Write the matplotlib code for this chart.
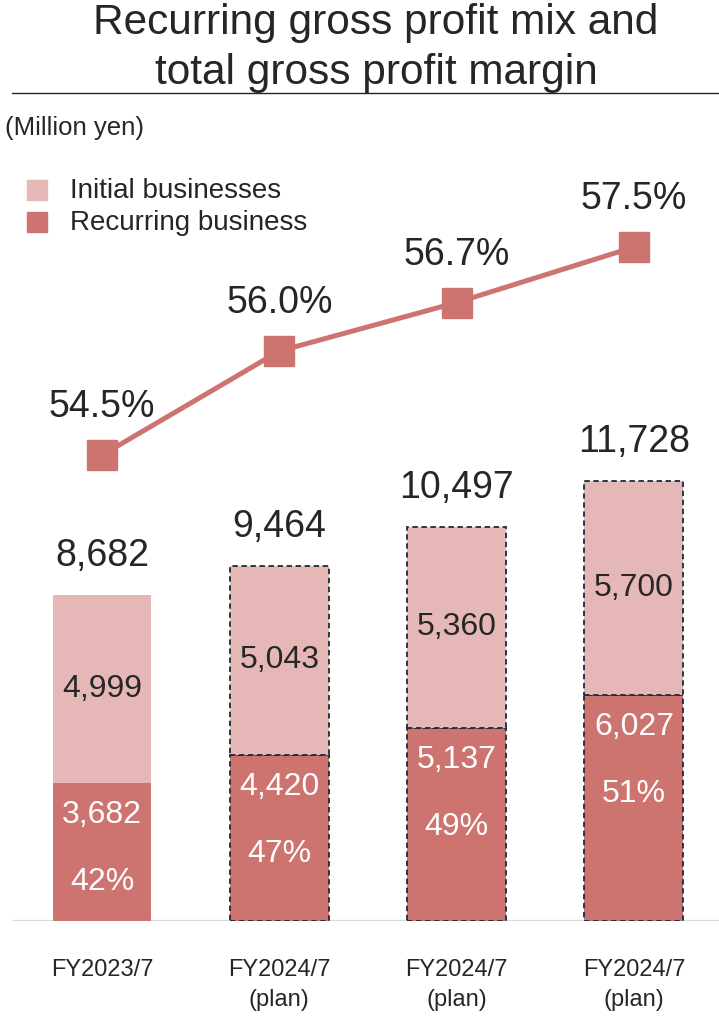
import matplotlib
matplotlib.use("Agg")
import matplotlib.pyplot as plt
import numpy as np

# data
categories = ["FY2023/7", "FY2024/7\n(plan)", "FY2024/7\n(plan)", "FY2024/7\n(plan)"]
recurring = [3682, 4420, 5137, 6027]
initial = [4999, 5043, 5360, 5700]
totals = [8682, 9464, 10497, 11728]
recurring_share = [42, 47, 49, 51]
margin = [54.5, 56.0, 56.7, 57.5]
is_plan = [False, True, True, True]

c_init = "#E6B7B7"
c_rec = "#CD7471"
c_text = "#262626"
c_dash = "#1B2A3A"
regular = ["Liberation Sans", "DejaVu Sans"]

fig = plt.figure(figsize=(7.19, 10.24), dpi=100)
ax = fig.add_axes([0, 103 / 1024, 1, 821 / 1024])
ax2 = ax.twinx()

x = np.arange(len(categories))
w = 0.558

for i in range(len(x)):
    ls = (0, (3, 2)) if is_plan[i] else "-"
    ec = c_dash if is_plan[i] else "none"
    ax.bar(x[i], recurring[i], w, color=c_rec, edgecolor=ec, linestyle=ls, linewidth=1.3, zorder=2)
    ax.bar(x[i], initial[i], w, bottom=recurring[i], color=c_init, edgecolor=ec, linestyle=ls, linewidth=1.3, zorder=2)
    # labels inside and above the bars
    ax.text(x[i], recurring[i] + initial[i] / 2, f"{initial[i]:,}", ha="center", va="center",
            fontsize=23, color=c_text, family=regular, zorder=4)
    ax.annotate(f"{recurring[i]:,}", (x[i], recurring[i]), xytext=(0, -23), textcoords="offset points",
                ha="center", va="center", fontsize=23, color="white", family=regular, zorder=4)
    ax.annotate(f"{recurring_share[i]}%", (x[i], recurring[i]), xytext=(0, -71.5), textcoords="offset points",
                ha="center", va="center", fontsize=23, color="white", family=regular, zorder=4)
    ax.annotate(f"{totals[i]:,}", (x[i], totals[i]), xytext=(0, 28), textcoords="offset points",
                ha="center", va="center", fontsize=27, color=c_text, family=regular, zorder=4)

ax.set_xlim(-102 / 177.3, 617 / 177.3)
ax.set_ylim(0, 821 / 0.03755)
ax.axhline(0, xmin=14 / 719, xmax=1, color="#D9D9D9", linewidth=1.6, zorder=1)

ax2.plot(x, margin, color=c_rec, linewidth=3.6, marker="s", markersize=22, zorder=3)
for i in range(len(x)):
    ax2.annotate(f"{margin[i]:.1f}%", (x[i], margin[i]), xytext=(0, 34.5), textcoords="offset points",
                 ha="center", va="center", fontsize=27, color=c_text, family=regular)
ax2.set_ylim(47.78, 47.78 + 821 / 69.33)

for a in (ax, ax2):
    a.set_yticks([])
    for s in a.spines.values():
        s.set_visible(False)
    a.patch.set_visible(False)
ax.set_xticks(x)
ax.set_xticklabels(categories, fontsize=17, color=c_text, family=regular, linespacing=1.5)
ax.tick_params(axis="x", length=0, pad=27)

# title, unit, legend
fig.text(376 / 719, 1 - 48 / 1024, "Recurring gross profit mix and\ntotal gross profit margin",
         ha="center", va="center", fontsize=30.5, color=c_text, family=regular, linespacing=1.3)
fig.add_artist(plt.Line2D([12 / 719, 1], [1 - 93 / 1024, 1 - 93 / 1024], color="#262626", linewidth=1.0))
fig.text(5 / 719, 1 - 128 / 1024, "(Million yen)", ha="left", va="center", fontsize=18.5,
         color=c_text, family=regular)

leg_y = [190, 222]
leg_c = [c_init, c_rec]
leg_t = ["Initial businesses", "Recurring business"]
for yy, cc, tt in zip(leg_y, leg_c, leg_t):
    fig.patches.append(plt.Rectangle((27 / 719, 1 - (yy + 10) / 1024), 20 / 719, 20 / 1024,
                                     transform=fig.transFigure, color=cc, figure=fig))
    fig.text(70 / 719, 1 - (yy + 1) / 1024, tt, ha="left", va="center", fontsize=20, color=c_text, family=regular)

fig.savefig("out.png", dpi=100)
